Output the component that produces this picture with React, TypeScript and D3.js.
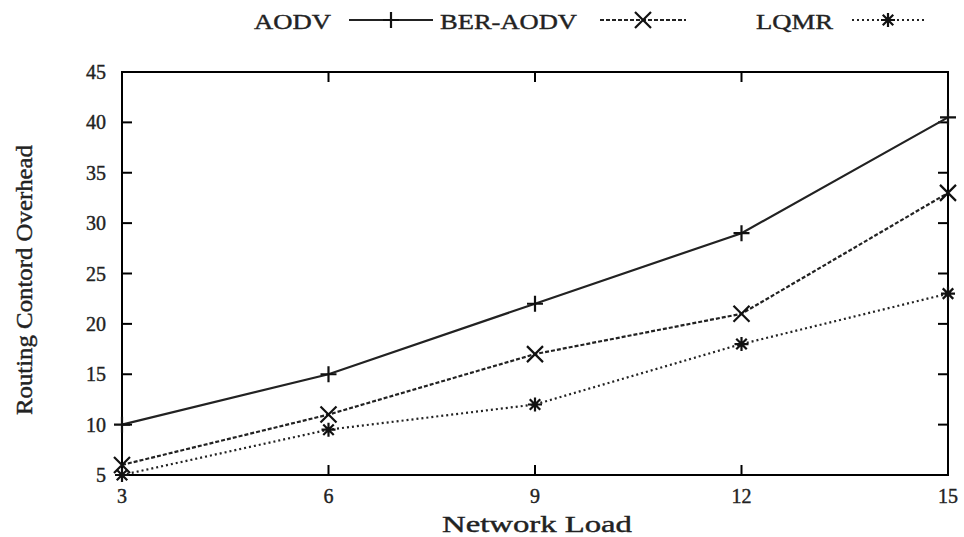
import React from "react";
import * as d3 from "d3";

const loads = [3, 6, 9, 12, 15];
const aodv = [10, 15, 22, 29, 40.5];
const berAodv = [6, 11, 17, 21, 33];
const lqmr = [5, 9.5, 12, 18, 23];
const yTicks = [5, 10, 15, 20, 25, 30, 35, 40, 45];
const xTicks = [3, 6, 9, 12, 15];

const W = 964, H = 537;
const L = 122, R = 948, T = 72, B = 475;
const font = "'Liberation Serif', 'Times New Roman', serif";
const txt = { fontFamily: font, fill: "#222", stroke: "#222", strokeWidth: 0.4 };

function Marker({ kind, x, y, s }: { kind: string; x: number; y: number; s: number }) {
  const st = { stroke: "#111", strokeWidth: 2.2, fill: "none" };
  if (kind === "plus")
    return <path d={`M${x - s},${y}H${x + s}M${x},${y - s}V${y + s}`} {...st} />;
  if (kind === "cross")
    return <path d={`M${x - s},${y - s}L${x + s},${y + s}M${x - s},${y + s}L${x + s},${y - s}`} {...st} />;
  return (
    <path
      d={`M${x - s},${y}H${x + s}M${x},${y - s}V${y + s}M${x - s * 0.75},${y - s * 0.75}L${x + s * 0.75},${y + s * 0.75}M${x - s * 0.75},${y + s * 0.75}L${x + s * 0.75},${y - s * 0.75}`}
      {...st}
    />
  );
}

export default function App() {
  const x = d3.scaleLinear().domain([3, 15]).range([L, R]);
  const y = d3.scaleLinear().domain([5, 45]).range([B, T]);
  const line = d3.line<number>().x((_, i) => x(loads[i])).y((d) => y(d));
  const series = [
    { name: "AODV", data: aodv, dash: "none", marker: "plus", lx0: 349, lx1: 433, tx: 254, tw: 77 },
    { name: "BER-AODV", data: berAodv, dash: "4 2", marker: "cross", lx0: 600, lx1: 686, tx: 440, tw: 137 },
    { name: "LQMR", data: lqmr, dash: "2 3", marker: "star", lx0: 852, lx1: 924, tx: 756, tw: 77 },
  ];
  const tl = 10;
  return (
    <svg width={W} height={H} style={{ position: "absolute", left: 0, top: 0, background: "#fff" }}>
      <rect x={0} y={0} width={W} height={H} fill="#fff" />
      {/* ticks */}
      {yTicks.map((t) => (
        <g key={"y" + t}>
          <line x1={L} x2={L + tl} y1={y(t)} y2={y(t)} stroke="#000" strokeWidth={2} />
          <line x1={R} x2={R - tl} y1={y(t)} y2={y(t)} stroke="#000" strokeWidth={2} />
          <text x={L - 16} y={y(t)} dy="0.35em" textAnchor="end" fontSize={20} {...txt}>
            {t}
          </text>
        </g>
      ))}
      {xTicks.map((t) => (
        <g key={"x" + t}>
          <line x1={x(t)} x2={x(t)} y1={B} y2={B - tl} stroke="#000" strokeWidth={2} />
          <line x1={x(t)} x2={x(t)} y1={T} y2={T + tl} stroke="#000" strokeWidth={2} />
          <text x={x(t)} y={B + 28} textAnchor="middle" fontSize={20} {...txt}>
            {t}
          </text>
        </g>
      ))}
      <rect x={L} y={T} width={R - L} height={B - T} fill="none" stroke="#000" strokeWidth={2} />
      {/* series */}
      {series.map((s) => (
        <g key={s.name}>
          <path d={line(s.data) || ""} fill="none" stroke="#222" strokeWidth={2.2} strokeDasharray={s.dash} />
          {s.data.map((v, i) => (
            <Marker key={i} kind={s.marker} x={x(loads[i])} y={y(v)} s={s.marker === "star" ? 7 : 8} />
          ))}
        </g>
      ))}
      {/* legend */}
      {series.map((s) => (
        <g key={"lg" + s.name}>
          <text x={s.tx} y={29} textLength={s.tw} lengthAdjust="spacingAndGlyphs" fontSize={22} {...txt}>
            {s.name}
          </text>
          <line x1={s.lx0} x2={s.lx1} y1={20} y2={20} stroke="#222" strokeWidth={2.2} strokeDasharray={s.dash} />
          <Marker kind={s.marker} x={(s.lx0 + s.lx1) / 2} y={20} s={s.marker === "star" ? 7 : 8} />
        </g>
      ))}
      {/* axis titles */}
      <text x={442} y={532} textLength={190} lengthAdjust="spacingAndGlyphs" fontSize={24} {...txt}>
        Network Load
      </text>
      <text
        transform={`translate(32,415) rotate(-90)`}
        textLength={270}
        lengthAdjust="spacingAndGlyphs"
        fontSize={23}
        {...txt}
      >
        Routing Contord Overhead
      </text>
    </svg>
  );
}
